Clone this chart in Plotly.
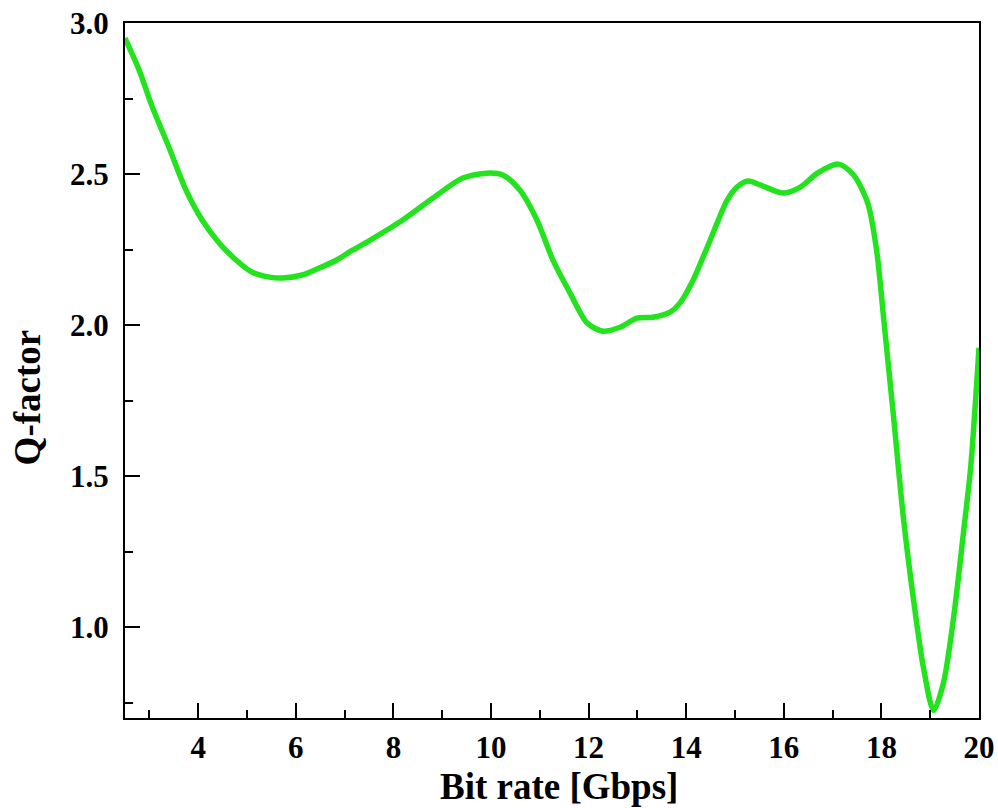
import plotly.graph_objects as go

bit_rate = [2.50, 2.79, 3.06, 3.40, 3.75, 4.08, 4.43, 4.78, 5.11, 5.46, 5.72, 6.13, 6.48, 6.83,
            7.16, 7.51, 8.19, 8.89, 9.42, 9.91, 10.24, 10.59, 10.94, 11.27, 11.62, 11.97, 12.29,
            12.64, 12.99, 13.32, 13.67, 13.87, 14.14, 14.49, 14.84, 15.04, 15.27, 15.52, 15.99,
            16.34, 16.69, 17.12, 17.43, 17.72, 17.90, 18.06, 18.25, 18.45, 18.66, 18.86, 19.07,
            19.27, 19.48, 19.68, 19.83, 19.93, 20.0]
q_factor = [2.950, 2.844, 2.722, 2.589, 2.447, 2.348, 2.272, 2.215, 2.175, 2.159, 2.156, 2.166,
            2.189, 2.215, 2.248, 2.280, 2.348, 2.430, 2.487, 2.503, 2.497, 2.447, 2.348, 2.215,
            2.106, 2.007, 1.980, 1.993, 2.023, 2.026, 2.043, 2.073, 2.149, 2.281, 2.414, 2.457,
            2.477, 2.464, 2.437, 2.457, 2.503, 2.533, 2.497, 2.404, 2.25, 2.00, 1.695, 1.364,
            1.089, 0.868, 0.725, 0.815, 1.033, 1.311, 1.530, 1.752, 1.925]

x_title = "Bit rate [Gbps]"
y_title = "Q-factor"

fig = go.Figure()
fig.add_trace(go.Scatter(
    x=bit_rate, y=q_factor, mode="lines",
    line=dict(color="#22E31E", width=5.5, shape="spline", smoothing=0.8),
    showlegend=False, hoverinfo="skip",
))

font_family = "Liberation Serif, Times New Roman, serif"
axis_common = dict(
    showline=True, linecolor="black", linewidth=2, mirror=True,
    ticks="inside", ticklen=15, tickwidth=2, tickcolor="black",
    showgrid=False, zeroline=False, automargin=False,
    tickfont=dict(family=font_family, size=31, color="black", weight="bold"),
)

fig.update_xaxes(
    range=[2.5, 20], tick0=0, dtick=2,
    minor=dict(ticks="inside", ticklen=8, tickwidth=2, tickcolor="black", dtick=1, tick0=0, showgrid=False),
    ticklabelstandoff=1,
    **axis_common,
)
fig.update_yaxes(
    range=[0.7, 3.0], tick0=0, dtick=0.5, tickformat=".1f",
    minor=dict(ticks="inside", ticklen=8, tickwidth=2, tickcolor="black", dtick=0.25, tick0=0, showgrid=False),
    ticklabelstandoff=8,
    **axis_common,
)

title_font = dict(family=font_family, size=37, color="black", weight="bold")
fig.add_annotation(text=x_title, xref="paper", yref="paper", x=0.508, y=-0.131,
                   xanchor="center", yanchor="bottom", showarrow=False, font=title_font)
fig.add_annotation(text=y_title, xref="paper", yref="paper", x=-0.1142, y=0.462,
                   xanchor="center", yanchor="middle", textangle=-90, showarrow=False, font=title_font)

fig.update_layout(
    width=998, height=808,
    margin=dict(l=125, r=19, t=23, b=90),
    paper_bgcolor="white", plot_bgcolor="white",
)

fig.write_html("out.html", config={"displayModeBar": False},
               post_script="document.body.style.margin='0';document.body.style.overflow='hidden';")
